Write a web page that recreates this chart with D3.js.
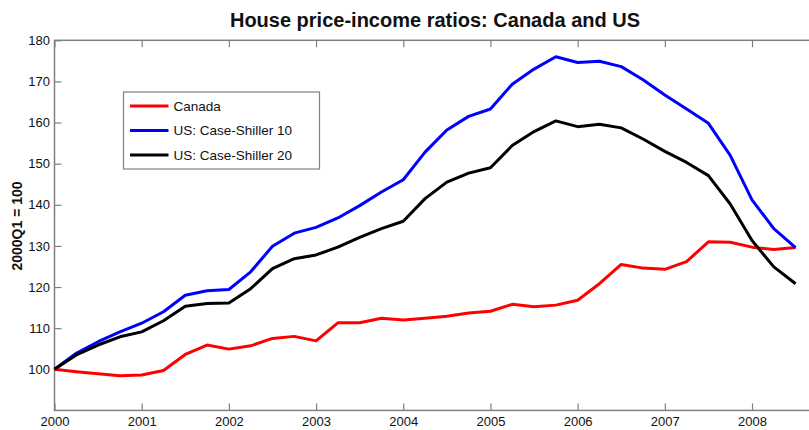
<!DOCTYPE html>
<html lang="en">
<head>
<meta charset="utf-8">
<script src="https://cdn.jsdelivr.net/npm/d3@7"></script>
<style>
  body { margin: 0; background: #fff; }
  svg { display: block; font-family: "Liberation Sans", Arial, sans-serif; }
</style>
</head>
<body>
<svg width="809" height="430"></svg>
<script>
// quarterly, 2000Q1 .. 2008Q3
var quarters = d3.range(0, 35).map(function(i) { return 2000 + i / 4; });
var canada = [100, 99.4, 98.9, 98.4, 98.6, 99.7, 103.6, 105.9, 104.9, 105.7, 107.5, 108.0, 106.9,
              111.3, 111.3, 112.4, 112.0, 112.4, 112.9, 113.7, 114.1, 115.8, 115.2, 115.6, 116.8,
              120.8, 125.5, 124.6, 124.3, 126.2, 131.0, 130.9, 129.7, 129.1, 129.6];
var caseShiller10 = [100, 103.9, 106.7, 109.1, 111.2, 114.0, 118.0, 119.1, 119.4, 123.7, 129.9, 133.1, 134.5,
                     136.8, 139.8, 143.1, 146.1, 152.8, 158.2, 161.5, 163.3, 169.3, 173.0, 176.0, 174.6,
                     174.9, 173.6, 170.4, 166.7, 163.3, 159.8, 152.0, 141.2, 134.2, 129.6];
var caseShiller20 = [100, 103.5, 105.9, 107.9, 109.1, 111.8, 115.3, 116.0, 116.1, 119.6, 124.5, 126.9, 127.8,
                     129.7, 132.1, 134.2, 136.0, 141.5, 145.5, 147.7, 149.0, 154.4, 157.8, 160.4, 159.0,
                     159.6, 158.7, 156.0, 153.0, 150.3, 147.1, 140.2, 131.3, 124.9, 120.8];
var seriesNames = ["Canada", "US: Case-Shiller 10", "US: Case-Shiller 20"];
var seriesColors = ["#ff0000", "#0000ff", "#000000"];
var xTicks = d3.range(2000, 2009);
var yTicks = d3.range(100, 181, 10);

var series = [canada, caseShiller10, caseShiller20];

var svg = d3.select("svg");
var x = d3.scaleLinear().domain([2000, 2008.75]).range([54.5, 817.4]);
var y = d3.scaleLinear().domain([90, 180]).range([410.4, 40.3]);

var axisColor = "#808080";

// title
svg.append("text")
    .attr("x", 435)
    .attr("y", 27)
    .attr("text-anchor", "middle")
    .attr("font-weight", "bold")
    .attr("font-size", "20px")
    .attr("font-family", "'Liberation Sans Narrow', 'Arial Narrow', 'Liberation Sans', sans-serif")
    .attr("fill", "#111")
    .text("House price-income ratios: Canada and US");

// frame
svg.append("rect")
    .attr("x", x(2000)).attr("y", y(180))
    .attr("width", x(2008.75) - x(2000)).attr("height", y(90) - y(180))
    .attr("fill", "none").attr("stroke", axisColor).attr("stroke-width", 1.5);

function styleAxis(g) {
    g.select(".domain").remove();
    g.selectAll(".tick line").attr("stroke", axisColor).attr("stroke-width", 1.2);
    g.selectAll(".tick text").attr("fill", "#111").attr("font-size", "13px")
        .attr("font-family", "'Liberation Sans', Arial, sans-serif");
}

svg.append("g")
    .attr("transform", "translate(0," + y(90) + ")")
    .call(d3.axisBottom(x).tickValues(xTicks).tickFormat(d3.format("d")).tickSize(-7).tickPadding(6))
    .call(styleAxis);
svg.append("g")
    .attr("transform", "translate(0," + y(180) + ")")
    .call(d3.axisTop(x).tickValues(xTicks).tickFormat("").tickSize(-7))
    .call(styleAxis);
svg.append("g")
    .attr("transform", "translate(" + x(2000) + ",0)")
    .call(d3.axisLeft(y).tickValues(yTicks).tickSize(-7).tickPadding(4.5))
    .call(styleAxis);
svg.append("g")
    .attr("transform", "translate(" + x(2008.75) + ",0)")
    .call(d3.axisRight(y).tickValues(yTicks).tickFormat("").tickSize(-7))
    .call(styleAxis);

// y label
svg.append("text")
    .attr("transform", "translate(22,226) rotate(-90)")
    .attr("text-anchor", "middle")
    .attr("font-weight", "bold")
    .attr("font-size", "14px")
    .attr("fill", "#111")
    .text("2000Q1 = 100");

// lines
var line = d3.line()
    .x(function(d, i) { return x(quarters[i]); })
    .y(function(d) { return y(d); });

svg.append("g").selectAll("path")
    .data(series)
    .enter().append("path")
    .attr("d", line)
    .attr("fill", "none")
    .attr("stroke", function(d, i) { return seriesColors[i]; })
    .attr("stroke-width", 3)
    .attr("stroke-linejoin", "round");

// legend
var legend = svg.append("g").attr("transform", "translate(123.5,92)");
legend.append("rect")
    .attr("width", 196).attr("height", 77)
    .attr("fill", "#fff").attr("stroke", axisColor).attr("stroke-width", 1.2);
var item = legend.selectAll(".item")
    .data(seriesNames)
    .enter().append("g")
    .attr("class", "item")
    .attr("transform", function(d, i) { return "translate(0," + (14 + i * 24.5) + ")"; });
item.append("line")
    .attr("x1", 6.5).attr("x2", 45)
    .attr("stroke", function(d, i) { return seriesColors[i]; })
    .attr("stroke-width", 3);
item.append("text")
    .attr("x", 50)
    .attr("dy", "0.35em")
    .attr("font-size", "13.5px")
    .attr("fill", "#111")
    .text(function(d) { return d; });
</script>
</body>
</html>
